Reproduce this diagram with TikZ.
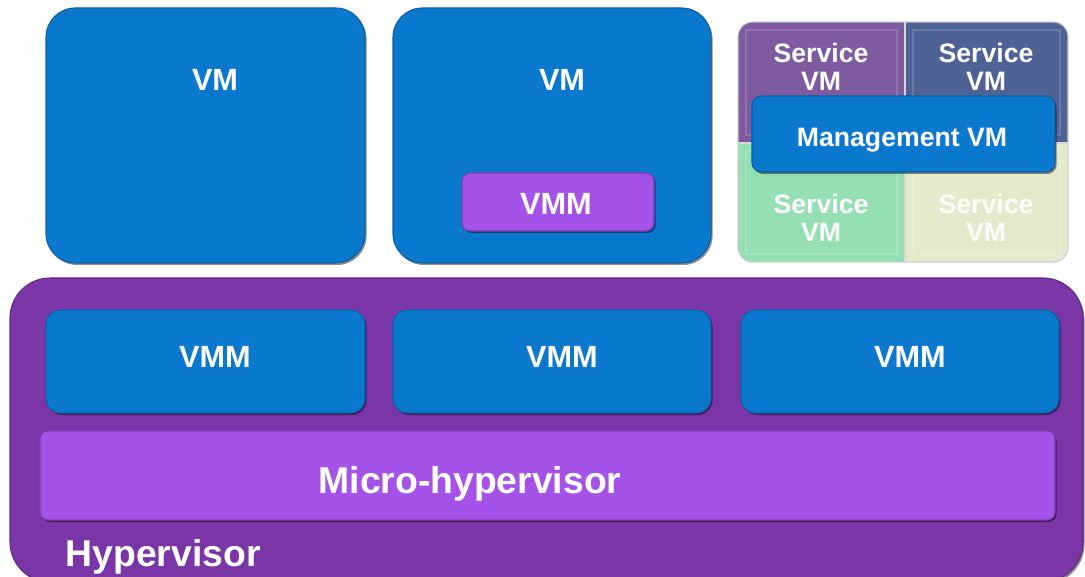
\documentclass[tikz,border=0pt]{standalone}
\usepackage{fontspec}
\setmainfont{Liberation Sans}
\usetikzlibrary{positioning}
\definecolor{vmblue}{HTML}{0A78CC}
\definecolor{hvpurple}{HTML}{7A36A6}
\definecolor{micropurple}{HTML}{A452E8}
\definecolor{svcpurple}{HTML}{7E5AA0}
\definecolor{svcslate}{HTML}{4F6296}
\definecolor{svcmint}{HTML}{95E0B2}
\definecolor{svccream}{HTML}{E4EBCC}
\tikzset{
  box/.style={rectangle, inner sep=0pt,
    preaction={fill=black, opacity=0.45, transform canvas={xshift=1.2pt, yshift=-1.5pt}}},
  vmbox/.style={box, fill=vmblue, draw=vmblue!80!black, line width=0.8pt},
  mmbox/.style={box, fill=micropurple, draw=micropurple!75!black, line width=0.8pt},
  lbl/.style={text=white, font=\bfseries\fontsize{23}{26}\selectfont},
  biglbl/.style={text=white, font=\bfseries\fontsize{28}{30}\selectfont},
  svclbl/.style={text=white, align=center, font=\bfseries\fontsize{20}{21}\selectfont}
}

\begin{document}
\begin{tikzpicture}[x=0.75pt, y=-0.75pt]
  \clip (0,0) rectangle (1085,577);

  % guest VMs
  \node[vmbox, rounded corners=22pt, minimum width=239.25pt, minimum height=191.25pt] (vm1) at (205.5,135.5) {};
  \node[vmbox, rounded corners=22pt, minimum width=238.5pt, minimum height=191.25pt] (vm2) at (552,135.5) {};
  \node[lbl] (vm1lbl) at (215,80) {VM};
  \node[lbl] (vm2lbl) at (562,80) {VM};
  \node[mmbox, rounded corners=6pt, minimum width=144pt, minimum height=43.5pt] (vmmin) at (558,202) {};
  \node[lbl] (vmminlbl) at (556,204) {VMM};

  % service VMs around the management VM
  \begin{scope}
    \clip[rounded corners=11pt] (738,22) rectangle (1068,262);
    \fill[svcpurple] (738,22) rectangle (905,143);
    \fill[svcslate] (905,22) rectangle (1068,143);
    \fill[svcmint] (738,143) rectangle (905,262);
    \fill[svccream] (905,143) rectangle (1068,262);
    \draw[white, opacity=0.15, line width=1pt] (746,30) rectangle (897,135) (913,30) rectangle (1060,135)
      (746,151) rectangle (897,254) (913,151) rectangle (1060,254);
    \draw[white!85!black, line width=1.2pt] (905,22) -- (905,262) (738,143) -- (1068,143);
  \end{scope}
  \draw[black!20, line width=0.8pt, rounded corners=11pt] (738,22) rectangle (1068,262);
  \node[svclbl] (svc1) at (821,67) {Service\\VM};
  \node[svclbl] (svc2) at (986,67) {Service\\VM};
  \node[svclbl] (svc3) at (821,218) {Service\\VM};
  \node[svclbl, text=white!95!svccream] (svc4) at (986,218) {Service\\VM};
  \node[vmbox, rounded corners=7pt, minimum width=227.25pt, minimum height=57pt] (mgmt) at (903.5,134) {};
  \node[svclbl] (mgmtlbl) at (902,140) {Management VM};

  % hypervisor layer
  \node[box, fill=hvpurple, draw=hvpurple!80!black, line width=0.8pt, rounded corners=30pt,
    minimum width=804.75pt, minimum height=228pt] (hv) at (546.5,430) {};
  \node[vmbox, rounded corners=11pt, minimum width=239.25pt, minimum height=77.25pt] (vmm1) at (205.5,361.5) {};
  \node[vmbox, rounded corners=11pt, minimum width=238.5pt, minimum height=77.25pt] (vmm2) at (552,361.5) {};
  \node[vmbox, rounded corners=11pt, minimum width=238.5pt, minimum height=77.25pt] (vmm3) at (900,361.5) {};
  \node[lbl] (vmm1lbl) at (215,357) {VMM};
  \node[lbl] (vmm2lbl) at (562,357) {VMM};
  \node[lbl] (vmm3lbl) at (910,357) {VMM};
  \node[mmbox, rounded corners=6pt, minimum width=761.25pt, minimum height=66.75pt] (micro) at (547.5,475.5) {};
  \node[biglbl] (microlbl) at (470,484) {Micro-hypervisor};
  \node[biglbl, anchor=west] (hvlbl) at (61,557) {Hypervisor};
\end{tikzpicture}
\end{document}
